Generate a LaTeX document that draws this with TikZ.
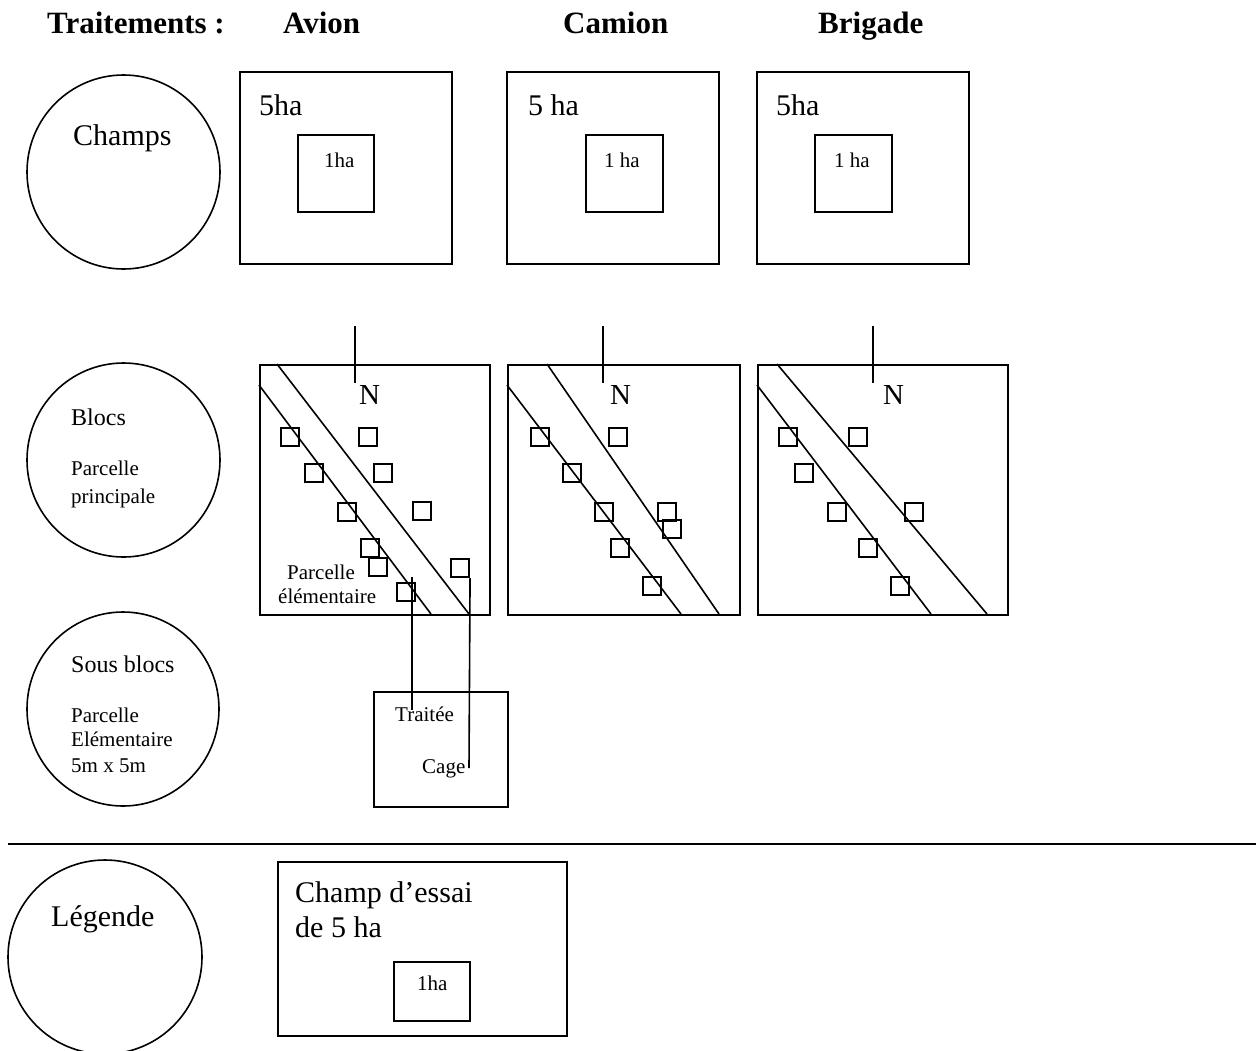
\documentclass[tikz,border=0pt]{standalone}
\usepackage{fontspec}
\setmainfont{Liberation Serif}
\usetikzlibrary{shapes.geometric}
\tikzset{
  ln/.style={line width=1.6pt},
  box/.style={draw, line width=1.6pt, inner sep=0pt, anchor=north west},
  sq/.style={draw, line width=1.6pt, inner sep=0pt, minimum size=18.5pt},
  circ/.style={draw, ellipse, line width=1.6pt, inner sep=0pt},
  txtL/.style={inner sep=0pt, anchor=base west, font=\fontsize{30}{36}\selectfont},
  txtM/.style={inner sep=0pt, anchor=base west, font=\fontsize{24}{29}\selectfont},
  txtS/.style={inner sep=0pt, anchor=base west, font=\fontsize{21}{25}\selectfont},
  hdr/.style={inner sep=0pt, anchor=base west, font=\fontsize{31}{37}\selectfont\bfseries},
}
\begin{document}
\begin{tikzpicture}[x=1pt, y=-1pt]
\useasboundingbox (0,0) rectangle (1256,1050);

% header
\node[hdr] (hT) at (47,33) {Traitements :};
\node[hdr] (hA) at (283,33) {Avion};
\node[hdr] (hC) at (563,33) {Camion};
\node[hdr] (hB) at (818,33) {Brigade};

% circles
\node[circ, minimum width=193pt, minimum height=194pt] (cChamps) at (123.5,172) {};
\node[circ, minimum width=193pt, minimum height=194pt] (cBlocs) at (123.5,460) {};
\node[circ, minimum width=192pt, minimum height=194pt] (cSous) at (123,709) {};
\node[circ, minimum width=194pt, minimum height=194pt] (cLeg) at (105,957) {};

\node[txtL] (tChamps) at (73,145) {Champs};
\node[txtM] (tBlocs) at (71,425) {Blocs};
\node[txtS] (tPP1) at (71,475) {Parcelle};
\node[txtS] (tPP2) at (71,503) {principale};
\node[txtM] (tSous) at (71,672) {Sous blocs};
\node[txtS] (tPE1) at (71,722) {Parcelle};
\node[txtS] (tPE2) at (71,746) {Elémentaire};
\node[txtS] (tPE3) at (71,772) {5m x 5m};
\node[txtL] (tLeg) at (51,926) {Légende};

% fields (top row)
\node[box, minimum width=212pt, minimum height=192pt] (fA) at (239,71) {};
\node[box, minimum width=76pt, minimum height=77pt] (fAi) at (297,134) {};
\node[txtL] (fAt) at (259,115) {5ha};
\node[txtS] (fAit) at (324,167) {1ha};

\node[box, minimum width=212pt, minimum height=192pt] (fC) at (506,71) {};
\node[box, minimum width=77pt, minimum height=77pt] (fCi) at (585,134) {};
\node[txtL] (fCt) at (528,115) {5 ha};
\node[txtS] (fCit) at (604,167) {1 ha};

\node[box, minimum width=212pt, minimum height=192pt] (fB) at (756,71) {};
\node[box, minimum width=77pt, minimum height=77pt] (fBi) at (814,134) {};
\node[txtL] (fBt) at (776,115) {5ha};
\node[txtS] (fBit) at (834,167) {1 ha};

% blocks
\node[box, minimum width=230pt, minimum height=250pt] (bA) at (259,364) {};
\node[box, minimum width=232pt, minimum height=250pt] (bC) at (507,364) {};
\node[box, minimum width=250pt, minimum height=250pt] (bB) at (757,364) {};

% north marks
\coordinate (nA1) at (355,326); \coordinate (nA2) at (355,383);
\coordinate (nC1) at (603,326); \coordinate (nC2) at (603,383);
\coordinate (nB1) at (873,326); \coordinate (nB2) at (873,383);
\draw[ln] (nA1) -- (nA2);
\draw[ln] (nC1) -- (nC2);
\draw[ln] (nB1) -- (nB2);
\node[txtL, font=\fontsize{29}{34}\selectfont] (NA) at (359,404) {N};
\node[txtL, font=\fontsize{29}{34}\selectfont] (NC) at (610,404) {N};
\node[txtL, font=\fontsize{29}{34}\selectfont] (NB) at (883,404) {N};

% diagonal strips
\coordinate (dA1s) at (259,385); \coordinate (dA1e) at (431,614);
\coordinate (dA2s) at (277,364); \coordinate (dA2e) at (469,614);
\coordinate (dC1s) at (507,385); \coordinate (dC1e) at (681,614);
\coordinate (dC2s) at (547,364); \coordinate (dC2e) at (719,614);
\coordinate (dB1s) at (757,385); \coordinate (dB1e) at (931,614);
\coordinate (dB2s) at (777,364); \coordinate (dB2e) at (987,614);
\draw[ln] (dA1s) -- (dA1e);
\draw[ln] (dA2s) -- (dA2e);
\draw[ln] (dC1s) -- (dC1e);
\draw[ln] (dC2s) -- (dC2e);
\draw[ln] (dB1s) -- (dB1e);
\draw[ln] (dB2s) -- (dB2e);

% small squares: Avion
\node[sq] (aS1) at (290,437) {};
\node[sq] (aS2) at (368,437) {};
\node[sq] (aS3) at (314,473) {};
\node[sq] (aS4) at (383,473) {};
\node[sq] (aS5) at (347,512) {};
\node[sq] (aS6) at (422,511) {};
\node[sq] (aS7) at (370,548) {};
\node[sq] (aS8) at (378,567) {};
\node[sq] (aS9) at (460,568) {};
\node[sq] (aS10) at (406,592) {};
% Camion
\node[sq] (cS1) at (540,437) {};
\node[sq] (cS2) at (618,437) {};
\node[sq] (cS3) at (572,473) {};
\node[sq] (cS4) at (604,512) {};
\node[sq] (cS5) at (667,512) {};
\node[sq] (cS6) at (672,529) {};
\node[sq] (cS7) at (620,548) {};
\node[sq] (cS8) at (652,586) {};
% Brigade
\node[sq] (gS1) at (788,437) {};
\node[sq] (gS2) at (858,437) {};
\node[sq] (gS3) at (804,473) {};
\node[sq] (gS4) at (837,512) {};
\node[sq] (gS5) at (914,512) {};
\node[sq] (gS6) at (868,548) {};
\node[sq] (gS7) at (900,586) {};

\node[txtS] (pe1) at (287,579) {Parcelle};
\node[txtS] (pe2) at (278,603) {élémentaire};

% sub-block box
\node[box, minimum width=134pt, minimum height=115pt] (tc) at (373,691) {};
\node[txtS] (tTr) at (395,721) {Traitée};
\node[txtS] (tCg) at (422,773) {Cage};
\coordinate (lT1) at (412,577); \coordinate (lT2) at (412,710);
\coordinate (lC2) at (469,768);
\draw[ln] (lT1) -- (lT2);
\draw[ln] (aS9.south east) -- (lC2);

% separator
\coordinate (hl1) at (8,844); \coordinate (hl2) at (1256,844);
\draw[ln] (hl1) -- (hl2);

% legend box
\node[box, minimum width=289pt, minimum height=174pt] (lg) at (277,861) {};
\node[box, minimum width=76pt, minimum height=59pt] (lgi) at (393,961) {};
\node[txtL] (lg1) at (295,902) {Champ d’essai};
\node[txtL] (lg2) at (295,937) {de 5 ha};
\node[txtS] (lg3) at (417,990) {1ha};
\end{tikzpicture}
\end{document}
